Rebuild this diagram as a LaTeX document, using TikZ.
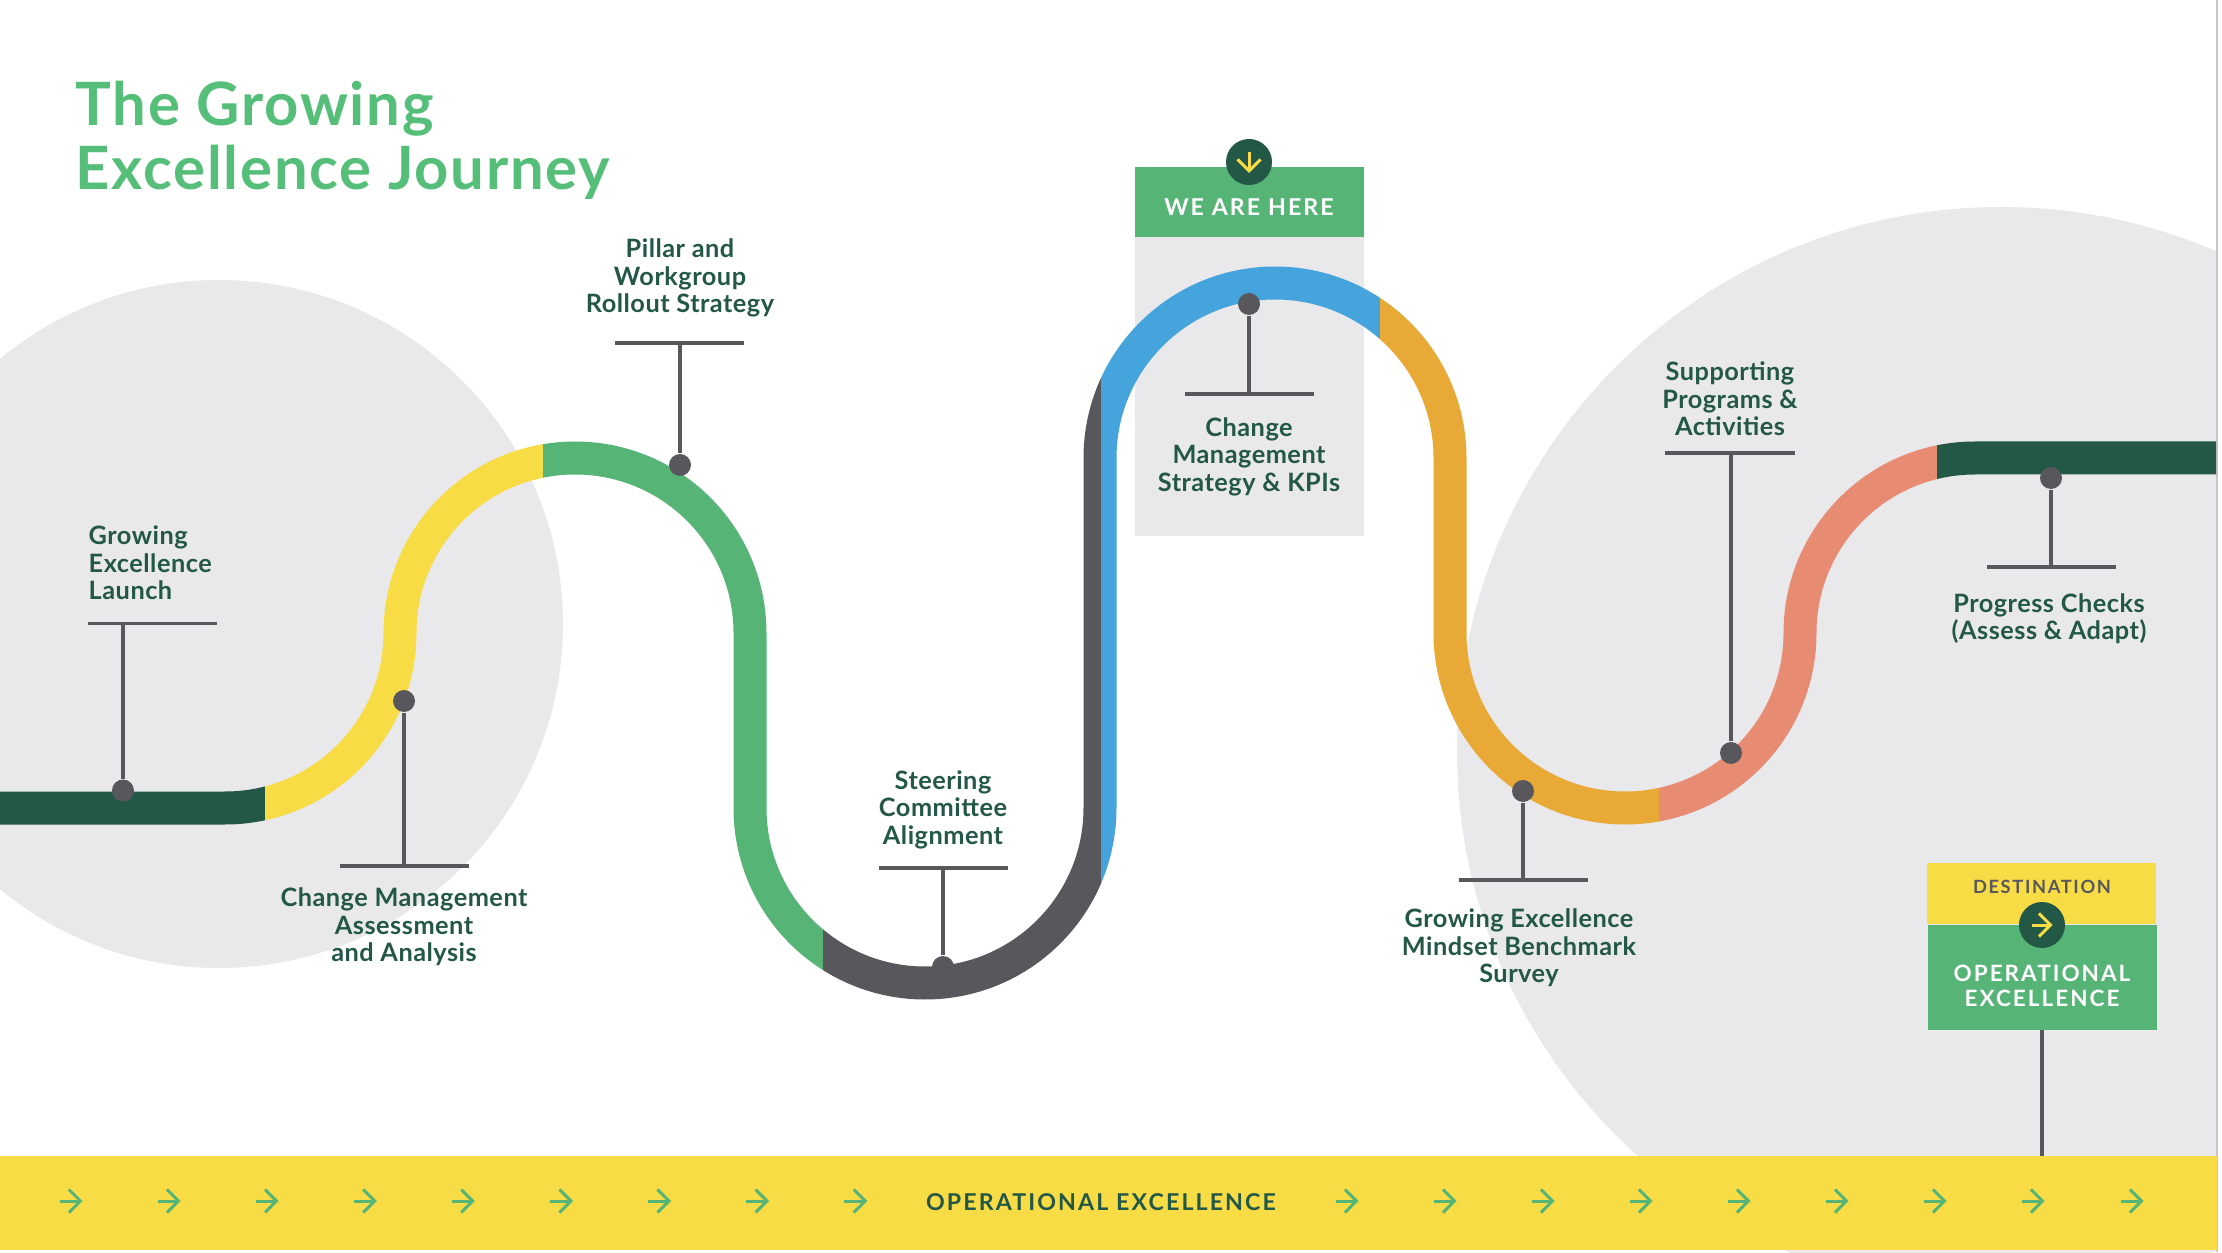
\documentclass[tikz,border=0pt]{standalone}
\usepackage{fontspec}
\setmainfont{Lato}
\usetikzlibrary{arrows.meta}
\definecolor{titlegreen}{HTML}{55BF7A}
\definecolor{leafgreen}{HTML}{57B477}
\definecolor{deepgreen}{HTML}{235746}
\definecolor{sunyellow}{HTML}{F7DC45}
\definecolor{skyblue}{HTML}{46A4DC}
\definecolor{amber}{HTML}{E8A937}
\definecolor{salmon}{HTML}{E88B73}
\definecolor{inkgray}{HTML}{58585C}
\definecolor{palegray}{HTML}{E9E9EB}
\newcommand{\roadpath}{(0,4.44) -- (2.25,4.44) arc (-90:0:1.75) arc (180:90:1.75) arc (90:0:1.75)
  -- (7.5,4.44) arc (180:270:1.75) arc (-90:0:1.75) -- (11,7.94) arc (180:0:1.75)
  -- (14.5,6.19) arc (180:270:1.75) arc (-90:0:1.75) arc (180:90:1.75) -- (22.16,7.94)}
\newfontfamily\capsfont[LetterSpace=9]{Lato}
\newfontfamily\labelfont[LetterSpace=2]{Lato}
\newfontfamily\titlefont[LetterSpace=3]{Lato}
\tikzset{
  roadline/.style={line width=0.33cm},
  stem/.style={inkgray,line width=0.033cm},
  pindot/.style={circle,fill=inkgray,inner sep=0pt,minimum size=0.22cm},
  badge/.style={circle,fill=deepgreen,inner sep=0pt,minimum size=0.46cm},
  barb/.style={-{Straight Barb[length=0.115cm,width=0.23cm]},line width=0.03cm},
  steplabel/.style={text=deepgreen,align=center,font=\labelfont\fontsize{7.2}{7.82}\selectfont\bfseries},
  capslabel/.style={align=center,font=\capsfont\fontsize{6.6}{7.1}\selectfont\bfseries}
}
\begin{document}
\begin{tikzpicture}
\useasboundingbox (0,0) rectangle (22.22,12.52);
\begin{scope}
  \clip (0,0) rectangle (22.16,12.52);
  \fill[palegray] (2.19,6.28) circle (3.44);
  \fill[palegray] (20.01,5.01) circle (5.44);
\end{scope}
\draw[gray!45,line width=0.02cm] (22.17,0) -- (22.17,12.52);
% title
\node[text=titlegreen,align=left,anchor=west,inner sep=0pt,font=\titlefont\fontsize{17}{18.2}\selectfont\bfseries] (title) at (0.75,11.12)
  {The Growing\\Excellence Journey};
% current position panel, sits behind the road
\fill[palegray] (11.35,7.16) rectangle (13.64,10.15);
\fill[leafgreen] (11.35,10.15) rectangle (13.64,10.85);
\node[text=white,capslabel] (herelabel) at (12.49,10.445) {WE ARE HERE};
\node[badge] (herebadge) at (12.49,10.9) {};
\draw[barb,sunyellow] (12.49,11.0) -- (12.49,10.79);
% the road, one clip per colour
\foreach \xa/\xb/\col in {0/2.65/deepgreen,2.65/5.43/sunyellow,5.43/8.23/leafgreen,8.23/11.01/inkgray,
    11.01/13.8/skyblue,13.8/16.59/amber,16.59/19.37/salmon,19.37/22.16/deepgreen}{
  \begin{scope}
    \clip (\xa,0) rectangle (\xb,12.52);
    \draw[roadline,\col] \roadpath;
  \end{scope}
}
% pins along the road: dot, stem, crossbar
\foreach \name/\x/\yd/\yb/\xl/\xr in {launch/1.23/4.615/6.285/0.88/2.17,assess/4.04/5.51/3.86/3.4/4.69,
    pillar/6.8/7.87/9.09/6.15/7.44,steer/9.43/2.85/3.84/8.79/10.08,kpi/12.49/9.48/8.58/11.85/13.14,
    survey/15.23/4.61/3.72/14.59/15.88,support/17.31/4.99/7.99/16.65/17.95,checks/20.51/7.74/6.85/19.87/21.16}{
  \node[pindot] (\name dot) at (\x,\yd) {};
  \coordinate (\name foot) at (\x,\yb);
  \coordinate (\name left) at (\xl,\yb);
  \coordinate (\name right) at (\xr,\yb);
  \draw[stem] (\name dot) -- (\name foot);
  \draw[stem] (\name left) -- (\name right);
}
\node[steplabel,align=left,anchor=west,inner sep=0pt] (launchlabel) at (0.88,6.89) {Growing\\Excellence\\Launch};
\node[steplabel] (assesslabel) at (4.04,3.25) {Change Management\\Assessment\\and Analysis};
\node[steplabel] (pillarlabel) at (6.8,9.74) {Pillar and\\Workgroup\\Rollout Strategy};
\node[steplabel] (steerlabel) at (9.43,4.425) {Steering\\Committee\\Alignment};
\node[steplabel] (kpilabel) at (12.49,7.955) {Change\\Management\\Strategy \& KPIs};
\node[steplabel] (surveylabel) at (15.19,3.04) {Growing Excellence\\Mindset Benchmark\\Survey};
\node[steplabel] (supportlabel) at (17.3,8.53) {Supporting\\Programs \&\\Activities};
\node[steplabel] (checkslabel) at (20.49,6.335) {Progress Checks\\(Assess \& Adapt)};
% bottom bar with its arrows
\node[fill=sunyellow,inner sep=0pt,minimum width=22.18cm,minimum height=0.94cm,anchor=south west] (opbar) at (-0.02,0.01) {};
\node[text=deepgreen,capslabel] (oplabel) at (11.01,0.495) {OPERATIONAL EXCELLENCE};
\foreach \x in {0.71,1.691,2.672,3.653,4.634,5.615,6.596,7.577,8.558,13.47,14.45,15.43,16.41,17.39,18.37,19.35,20.33,21.32}{
  \draw[barb,leafgreen] (\x-0.115,0.51) -- (\x+0.115,0.51);
}
% destination sign
\fill[sunyellow] (19.27,3.28) rectangle (21.56,3.89);
\node[fill=leafgreen,inner sep=0pt,minimum width=2.29cm,minimum height=1.05cm,anchor=north west] (goalbox) at (19.27,3.28) {};
\node[text=inkgray,capslabel,font=\capsfont\fontsize{5.2}{6}\selectfont\bfseries] (destlabel) at (20.42,3.655) {DESTINATION};
\node[text=white,capslabel,font=\capsfont\fontsize{6.4}{7.1}\selectfont\bfseries] (goallabel) at (20.42,2.66) {OPERATIONAL\\EXCELLENCE};
\node[badge] (goalbadge) at (20.42,3.27) {};
\draw[barb,sunyellow] (20.315,3.27) -- (20.525,3.27);
\draw[inkgray,line width=0.04cm] (goalbox.south) -- (goalbox.south |- opbar.north);
\end{tikzpicture}
\end{document}
